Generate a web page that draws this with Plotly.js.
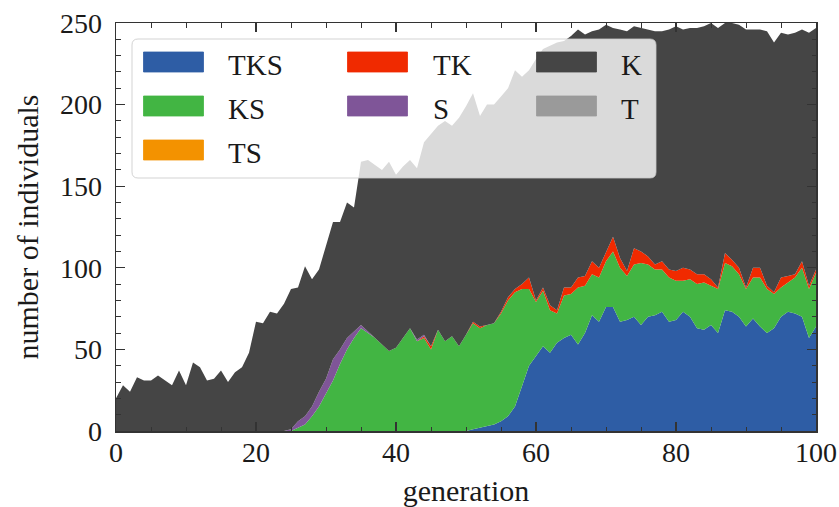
<!DOCTYPE html>
<html>
<head>
<meta charset="utf-8">
<script src="https://cdn.plot.ly/plotly-3.0.1.min.js"></script>
<style>html,body{margin:0;padding:0;background:#fff}#chart{width:839px;height:507px}</style>
</head>
<body>
<div id="chart"></div>
<script>
const generation = [0,1,2,3,4,5,6,7,8,9,10,11,12,13,14,15,16,17,18,19,20,21,22,23,24,25,26,27,28,29,30,31,32,33,34,35,36,37,38,39,40,41,42,43,44,45,46,47,48,49,50,51,52,53,54,55,56,57,58,59,60,61,62,63,64,65,66,67,68,69,70,71,72,73,74,75,76,77,78,79,80,81,82,83,84,85,86,87,88,89,90,91,92,93,94,95,96,97,98,99,100];

const TKS = [0,0,0,0,0,0,0,0,0,0, 0,0,0,0,0,0,0,0,0,0, 0,0,0,0,0,0,0,0,0,0, 0,0,0,0,0,0,0,0,0,0, 0,0,0,0,0,0,0,0,0,0,
  0,1,2,3,4,6,9,15,28,40, 46,52,48,54,57,59,53,60,71,67, 76,76,67,68,70,65,70,71,73,67, 68,73,70,63,62,65,60,74,73,70, 64,69,64,60,63,70,73,72,70,57, 64];

const KS = [0,0,0,0,0,0,0,0,0,0, 0,0,0,0,0,0,0,0,0,0, 0,0,0,0,0,0,2,4,9,15, 23,31,41,50,57,63,60,57,53,49, 51,57,63,55,57,50,62,55,58,52,
  59,65,61,62,62,66,71,70,59,47, 33,34,26,18,26,25,35,29,25,27, 28,34,33,27,32,38,32,28,26,27, 24,19,23,27,29,24,27,29,28,26, 23,25,30,27,21,18,18,22,30,30, 33];

const TS = [0,0,0,0,0,0,0,0,0,0, 0,0,0,0,0,0,0,0,0,0, 0,0,0,0,0,0,0,0,0,0, 0,0,0,0,0,0,0,0,0,0, 0,0,0,0,0,0,0,0,0,0,
  0,0,0,0,0,0,0,0,0,0, 0,0,0,0,0,0,0,0,0,0, 0,0,0,0,0,0,0,0,0,0, 0,0,0,0,0,0,0,0,0,0, 0,0,0,0,0,0,0,0,0,0, 0];

const TK = [0,0,0,0,0,0,0,0,0,0, 0,0,0,0,0,0,0,0,0,0, 0,0,0,0,0,0,0,0,0,0, 0,0,0,0,0,0,0,0,0,0, 0,0,0,0,1,2,0,0,0,0,
  0,1,1,0,0,1,2,2,3,7, 1,2,3,2,5,4,6,6,8,6, 6,9,6,3,10,7,5,3,5,5, 6,8,6,6,5,4,1,6,4,4, 1,6,6,2,1,6,4,2,4,2, 2];

const S = [0,0,0,0,0,0,0,0,0,0, 0,0,0,0,0,0,0,0,0,0, 0,0,0,0,0,1,4,5,6,9, 9,13,9,7,4,2,1,0,0,0, 0,0,0,1,1,0,0,0,0,0,
  0,0,0,0,0,0,0,0,0,0, 0,0,0,0,0,0,0,0,0,0, 0,0,0,0,0,0,0,0,0,0, 0,0,0,0,0,0,0,0,0,0, 0,0,0,0,0,0,0,0,0,0, 0];

const K = [20,28,24,33,31,31,34,31,28,37, 28,42,39,31,32,37,30,36,39,48, 67,66,73,72,78,86,82,92,78,75, 81,84,78,83,76,100,105,106,107,116, 106,105,103,105,118,130,125,135,129,140,
  140,140,129,135,134,132,128,134,127,127, 148,146,159,164,151,154,152,148,141,146, 139,128,140,147,136,137,139,143,141,147, 150,146,148,151,152,157,159,141,145,149, 158,146,146,156,153,150,148,148,142,155, 148];

const T = [0,0,0,0,0,0,0,0,0,0, 0,0,0,0,0,0,0,0,0,0, 0,0,0,0,0,0,0,0,0,0, 0,0,0,0,0,0,0,0,0,0, 0,0,0,0,0,0,0,0,0,0,
  0,0,0,0,0,0,0,0,0,0, 0,0,0,0,0,0,0,0,0,0, 0,0,0,0,0,0,0,0,0,0, 0,0,0,0,0,0,0,0,0,0, 0,0,0,0,0,0,0,0,0,0, 0];

const seriesNames = ['TKS','KS','TS','TK','S','K','T'];
const seriesValues = [TKS, KS, TS, TK, S, K, T];
const seriesColors = ['#2e5da5','#42b543','#f39200','#f02a00','#7f5598','#454545','#9a9a9a'];

const traces = seriesNames.map((name, i) => ({
  x: generation, y: seriesValues[i], name: name,
  type: 'scatter', mode: 'lines', stackgroup: 'one',
  line: {width: 0, color: seriesColors[i]}, fillcolor: seriesColors[i],
  showlegend: false, hoverinfo: 'skip'
}));

// pixel -> paper helpers for the hand-drawn legend (plot area 116..816 x 23..431)
const PL = 116, PR = 816, PT = 23, PB = 431;
const px = v => (v - PL) / (PR - PL);
const py = v => (PB - v) / (PB - PT);

function roundRect(x0, y0, x1, y1, r) {
  const rx = r / (PR - PL), ry = r / (PB - PT);
  const X0 = px(x0), X1 = px(x1), Y0 = py(y0), Y1 = py(y1);
  return `M${X0+rx},${Y0} L${X1-rx},${Y0} Q${X1},${Y0} ${X1},${Y0-ry} L${X1},${Y1+ry} Q${X1},${Y1} ${X1-rx},${Y1} L${X0+rx},${Y1} Q${X0},${Y1} ${X0},${Y1+ry} L${X0},${Y0-ry} Q${X0},${Y0} ${X0+rx},${Y0} Z`;
}

const legendLayout = [
  {name:'TKS', col:0, row:0}, {name:'KS', col:0, row:1}, {name:'TS', col:0, row:2},
  {name:'TK', col:1, row:0}, {name:'S', col:1, row:1},
  {name:'K', col:2, row:0}, {name:'T', col:2, row:1}
];
const colSwatchX = [143.5, 347.5, 536.5];
const colTextX = [226, 431, 619];
const rowY = [62, 106, 150];

const shapes = [{
  type: 'path', xref: 'paper', yref: 'paper', layer: 'above',
  path: roundRect(132, 39, 656, 178, 6),
  fillcolor: 'rgba(255,255,255,0.8)', line: {color: 'rgba(200,200,200,0.8)', width: 1}
}];
const annotations = [];
legendLayout.forEach(it => {
  const c = seriesColors[seriesNames.indexOf(it.name)];
  shapes.push({
    type: 'rect', xref: 'paper', yref: 'paper', layer: 'above',
    x0: px(colSwatchX[it.col]), x1: px(colSwatchX[it.col] + 60),
    y0: py(rowY[it.row] - 10), y1: py(rowY[it.row] + 10),
    fillcolor: c, line: {width: 0.8, color: c}
  });
  annotations.push({
    xref: 'paper', yref: 'paper', x: px(colTextX[it.col]), y: py(rowY[it.row] + 3),
    xanchor: 'left', yanchor: 'middle', showarrow: false, text: it.name,
    font: {family: 'Liberation Serif, serif', size: 29, color: '#1a1a1a'}
  });
});

const axisCommon = {
  showline: true, linecolor: '#333', linewidth: 1.5, mirror: 'ticks',
  ticks: 'inside', ticklen: 9, tickwidth: 1.3, tickcolor: '#333',
  showgrid: false, zeroline: false,
  tickfont: {family: 'Liberation Serif, serif', size: 28, color: '#1a1a1a'}
};

const layout = {
  width: 839, height: 507,
  margin: {l: PL, r: 839 - PR, t: PT, b: 507 - PB, pad: 0},
  paper_bgcolor: '#fff', plot_bgcolor: '#fff',
  showlegend: false,
  xaxis: Object.assign({}, axisCommon, {
    range: [0, 100], dtick: 20, tick0: 0,
    minor: {dtick: 5, ticks: 'inside', ticklen: 4.5, tickwidth: 1, tickcolor: '#333'},
    ticklabelstandoff: -4,
    title: {text: 'generation', standoff: 18, font: {family: 'Liberation Serif, serif', size: 30, color: '#1a1a1a'}}
  }),
  yaxis: Object.assign({}, axisCommon, {
    range: [0, 250], dtick: 50, tick0: 0,
    minor: {dtick: 10, ticks: 'inside', ticklen: 4.5, tickwidth: 1, tickcolor: '#333'},
    ticklabelstandoff: 7,
    title: {text: 'number of individuals', standoff: 12, font: {family: 'Liberation Serif, serif', size: 30, color: '#1a1a1a'}}
  }),
  shapes: shapes,
  annotations: annotations
};

Plotly.newPlot('chart', traces, layout, {staticPlot: true, displayModeBar: false});
</script>
</body>
</html>
